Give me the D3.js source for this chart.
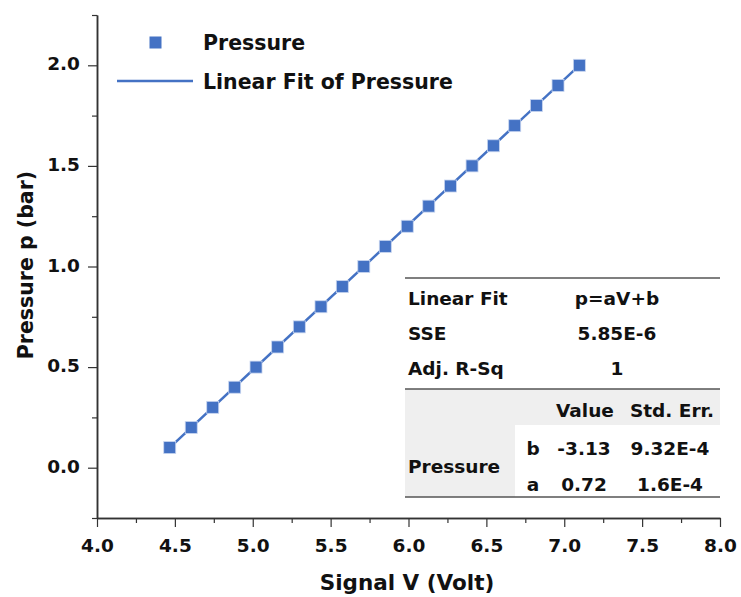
<!DOCTYPE html>
<html>
<head>
<meta charset="utf-8">
<script src="https://cdn.jsdelivr.net/npm/d3@7"></script>
<style>
  body { margin: 0; background: #fff; }
  svg text { font-family: "DejaVu Sans", sans-serif; font-weight: bold; fill: #111; }
</style>
</head>
<body>
<svg id="chart" width="741" height="597"></svg>
<script>
// measured points
const signalV = [4.467, 4.605, 4.743, 4.884, 5.021, 5.160, 5.299, 5.438, 5.575, 5.713,
                 5.851, 5.992, 6.130, 6.269, 6.408, 6.545, 6.682, 6.821, 6.960, 7.097]
const pressure = [0.1, 0.2, 0.3, 0.4, 0.5, 0.6, 0.7, 0.8, 0.9, 1.0,
                  1.1, 1.2, 1.3, 1.4, 1.5, 1.6, 1.7, 1.8, 1.9, 2.0]
const xTicks = [4.0, 4.5, 5.0, 5.5, 6.0, 6.5, 7.0, 7.5, 8.0]
const yTicks = [0.0, 0.5, 1.0, 1.5, 2.0]
const fitRows = [["Linear Fit", "p=aV+b"], ["SSE", "5.85E-6"], ["Adj. R-Sq", "1"]]
const paramRows = [["b", "-3.13", "9.32E-4"], ["a", "0.72", "1.6E-4"]]

const blue = "#4472c4"
const svg = d3.select("#chart")
const padL = 97, padR = 720, padT = 15, padB = 518

const x = d3.scaleLinear().domain([4, 8]).range([padL, padR])
const y = d3.scaleLinear().domain([-0.25, 2.25]).range([padB, padT])

const data = signalV.map((v, i) => ({ v, p: pressure[i] }))

// axes
const xAxis = d3.axisBottom(x).tickValues(xTicks).tickFormat(d3.format(".1f")).tickSize(9).tickSizeOuter(0)
const yAxis = d3.axisLeft(y).tickValues(yTicks).tickFormat(d3.format(".1f")).tickSize(9).tickSizeOuter(0)
const xMinor = d3.axisBottom(x).tickValues(d3.range(4.25, 8, 0.5)).tickFormat("").tickSize(5).tickSizeOuter(0)
const yMinor = d3.axisLeft(y).tickValues(d3.range(-0.25, 2.3, 0.5)).tickFormat("").tickSize(5).tickSizeOuter(0)

function styleAxis(g) {
  g.select(".domain").attr("stroke", "#333").attr("stroke-width", 1.5)
  g.selectAll(".tick line").attr("stroke", "#333").attr("stroke-width", 1.2)
  g.selectAll(".tick text").attr("font-size", 18.5).attr("fill", "#111")
}

svg.append("g").attr("transform", `translate(0,${padB})`).call(xMinor).call(styleAxis)
svg.append("g").attr("transform", `translate(${padL},0)`).call(yMinor).call(styleAxis)
svg.append("g").attr("transform", `translate(0,${padB})`).call(xAxis).call(styleAxis)
  .selectAll(".tick text").attr("y", 34).attr("dy", 0)
svg.append("g").attr("transform", `translate(${padL},0)`).call(yAxis).call(styleAxis)
  .selectAll(".tick text").attr("x", -17).attr("dy", "0.25em")

// titles
svg.append("text").attr("x", 407).attr("y", 590).attr("text-anchor", "middle")
  .attr("font-size", 21.5).text("Signal V (Volt)")
svg.append("text").attr("transform", "translate(33,265) rotate(-90)").attr("text-anchor", "middle")
  .attr("font-size", 20.5).text("Pressure p (bar)")

// fit line
const first = data[0], last = data[data.length - 1]
svg.append("line")
  .attr("x1", x(first.v)).attr("y1", y(first.p))
  .attr("x2", x(last.v)).attr("y2", y(last.p))
  .attr("stroke", blue).attr("stroke-width", 2.5)

// markers
const ms = 12
svg.selectAll("rect.pt").data(data).enter().append("rect")
  .attr("class", "pt")
  .attr("x", d => x(d.v) - ms / 2).attr("y", d => y(d.p) - ms / 2)
  .attr("width", ms).attr("height", ms)
  .attr("fill", blue).attr("stroke", "#c9d6f0").attr("stroke-width", 0.8)

// legend
const legend = svg.append("g")
legend.append("rect").attr("x", 149.5).attr("y", 36.5).attr("width", 12).attr("height", 12).attr("fill", blue)
legend.append("line").attr("x1", 117).attr("x2", 193).attr("y1", 81).attr("y2", 81)
  .attr("stroke", blue).attr("stroke-width", 2.5)
legend.append("text").attr("x", 203).attr("y", 50).attr("font-size", 20.5).text("Pressure")
legend.append("text").attr("x", 203).attr("y", 89).attr("font-size", 20.5).text("Linear Fit of Pressure")

// fit table
const tbl = svg.append("g")
const tl = 405, tr = 720
tbl.append("rect").attr("x", tl).attr("y", 389).attr("width", tr - tl).attr("height", 36).attr("fill", "#efefef")
tbl.append("rect").attr("x", tl).attr("y", 425).attr("width", 110).attr("height", 72).attr("fill", "#efefef")
;[278, 389, 497].forEach(yy => {
  tbl.append("line").attr("x1", tl).attr("x2", tr).attr("y1", yy).attr("y2", yy)
    .attr("stroke", "#555").attr("stroke-width", 1.3)
})
const fs = 18.5
fitRows.forEach((r, i) => {
  const yy = 305 + i * 35
  tbl.append("text").attr("x", 408).attr("y", yy).attr("font-size", fs).text(r[0])
  tbl.append("text").attr("x", 617).attr("y", yy).attr("text-anchor", "middle").attr("font-size", fs).text(r[1])
})
tbl.append("text").attr("x", 585).attr("y", 417).attr("text-anchor", "middle").attr("font-size", fs).text("Value")
tbl.append("text").attr("x", 672).attr("y", 417).attr("text-anchor", "middle").attr("font-size", fs).text("Std. Err.")
tbl.append("text").attr("x", 408).attr("y", 473).attr("font-size", fs).text("Pressure")
paramRows.forEach((r, i) => {
  const yy = 455 + i * 36
  tbl.append("text").attr("x", 533).attr("y", yy).attr("text-anchor", "middle").attr("font-size", fs).text(r[0])
  tbl.append("text").attr("x", 584).attr("y", yy).attr("text-anchor", "middle").attr("font-size", fs).text(r[1])
  tbl.append("text").attr("x", 670).attr("y", yy).attr("text-anchor", "middle").attr("font-size", fs).text(r[2])
})
</script>
</body>
</html>
